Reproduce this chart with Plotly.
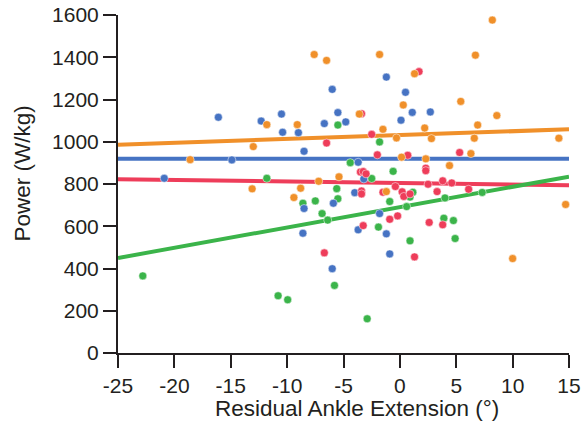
import plotly.graph_objects as go

# ---- data ----
orange_x = [-7.6, -6.5, -11.8, -9.1, -13.0, -18.6, -13.1, -8.8, -7.2, -5.4, -9.4,
            8.2, -1.8, 6.7, 1.3, 5.4, 0.3, 8.6, -3.6, 6.9, -1.5, 2.2, -0.3, 2.8, 6.6,
            14.1, 6.3, 0.15, 2.3, 4.4, -1.2, 14.7, 10.0]
orange_y = [1413, 1385, 1081, 1081, 977, 915, 777, 780, 813, 834, 736,
            1576, 1413, 1410, 1322, 1191, 1174, 1124, 1131, 1079, 1059, 1065, 1018, 1015, 1017,
            1017, 944, 927, 919, 887, 764, 703, 447]

blue_x = [-6.0, -16.1, -12.3, -10.5, -10.4, -9.0, -6.7, -5.5, -8.5, -14.9, -20.9,
          -1.2, 0.5, -4.8, 1.1, 2.7, 0.1, -3.7, -3.2,
          -8.5, -5.9, -8.6, -6.0, -4.0, -1.8, -3.7, -1.2, -0.9]
blue_y = [1248, 1116, 1098, 1131, 1045, 1043, 1086, 1138, 955, 914, 827,
          1306, 1234, 1094, 1139, 1141, 1102, 903, 824,
          684, 709, 567, 399, 759, 660, 583, 564, 469]

red_x = [-6.5, 1.7, -3.4, -2.5, -2.0, 0.7, 5.3, 2.3, 2.3, -3.5, -3.25, -3.0, -0.4, 2.5,
         3.8, 4.6, 6.1, -6.7, -3.4, -3.4, -1.5, 0.2, 0.35, 0.9, 3.3, -3.25, -0.9, -0.2,
         2.6, 3.8, 1.3]
red_y = [994, 1332, 1133, 1035, 938, 936, 949, 875, 863, 857, 859, 848, 788, 799,
         815, 805, 775, 474, 767, 753, 761, 763, 741, 753, 764, 603, 633, 649,
         618, 607, 455]

green_x = [-5.5, -11.8, -5.6, -1.8, -4.4, -0.6, -2.5, -5.5, -8.6, -7.5, -6.9, -6.4,
           -22.8, -10.8, -9.95, -5.8, 1.15, 0.9, -0.9, 0.6, 4.0, 7.3, -1.9, 3.9, 4.75,
           0.9, 4.9, -2.9]
green_y = [1079, 827, 778, 999, 901, 860, 826, 730, 709, 720, 660, 629,
           365, 271, 252, 320, 761, 738, 717, 693, 734, 760, 596, 638, 627,
           531, 542, 162]

# fitted trend lines (endpoints)
trend_x = [-25, 15]
orange_trend = [986, 1059]
blue_trend = [919, 919]
red_trend = [823, 794]
green_trend = [450, 835]

x_tick_vals = [-25, -20, -15, -10, -5, 0, 5, 10, 15]
x_tick_text = ["-25", "-20", "-15", "-10", "-5", "0", "5", "10", "15"]
y_tick_vals = [0, 200, 400, 600, 800, 1000, 1200, 1400, 1600]

x_title = "Residual Ankle Extension (°)"
y_title = "Power (W/kg)"

# ---- styles ----
C_OR = "#F0902A"
C_BL = "#4673C3"
C_RD = "#EE3D5A"
C_GR = "#3BB44A"
INK = "#231F20"
FONT = "Liberation Sans, Arial, Helvetica, sans-serif"

fig = go.Figure()

for ty, col in [(orange_trend, C_OR), (blue_trend, C_BL), (red_trend, C_RD), (green_trend, C_GR)]:
    fig.add_trace(go.Scatter(x=trend_x, y=ty, mode="lines",
                             line=dict(color=col, width=4), showlegend=False,
                             hoverinfo="skip"))

for xs, ys, col in [(green_x, green_y, C_GR), (blue_x, blue_y, C_BL),
                    (red_x, red_y, C_RD), (orange_x, orange_y, C_OR)]:
    fig.add_trace(go.Scatter(x=xs, y=ys, mode="markers",
                             marker=dict(color=col, size=8,
                                         line=dict(color="white", width=0.5)),
                             showlegend=False, cliponaxis=False))

axis_common = dict(showline=True, linecolor=INK, linewidth=2, ticks="outside",
                   ticklen=13, tickwidth=2, tickcolor=INK, showgrid=False,
                   zeroline=False, automargin=False,
                   tickfont=dict(family=FONT, size=21, color=INK))

fig.update_xaxes(range=[-25, 15], tickmode="array", tickvals=x_tick_vals,
                 ticktext=x_tick_text, **axis_common)
fig.update_yaxes(range=[0, 1600], tickmode="array", tickvals=y_tick_vals,
                 **axis_common)

fig.add_annotation(text=x_title, xref="paper", yref="paper", x=0.53, y=-0.165,
                   xanchor="center", yanchor="middle", showarrow=False,
                   font=dict(family=FONT, size=22.5, color=INK))
fig.add_annotation(text=y_title, xref="paper", yref="paper", x=-0.2118, y=0.5325,
                   xanchor="center", yanchor="middle", showarrow=False, textangle=-90,
                   font=dict(family=FONT, size=22.5, color=INK))

fig.update_layout(width=582, height=424, margin=dict(l=118, r=13, t=15, b=71),
                  plot_bgcolor="white", paper_bgcolor="white")

fig.write_html("out.html")
